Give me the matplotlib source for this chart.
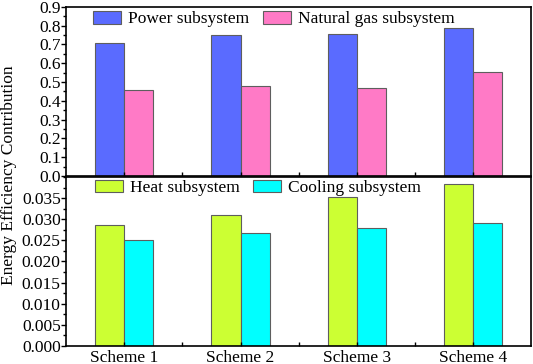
import matplotlib
matplotlib.use("Agg")
import matplotlib.pyplot as plt
from matplotlib.ticker import MultipleLocator, FixedLocator
import numpy as np

schemes = ["Scheme 1", "Scheme 2", "Scheme 3", "Scheme 4"]
power = [0.709, 0.752, 0.756, 0.786]
natural_gas = [0.455, 0.480, 0.470, 0.551]
heat = [0.0287, 0.0310, 0.0352, 0.0385]
cooling = [0.0252, 0.0267, 0.0280, 0.0291]

plt.rcParams['font.family'] = ['Liberation Serif', 'DejaVu Serif']
plt.rcParams['font.size'] = 12.5

fig = plt.figure(figsize=(5.33, 3.64), dpi=100)
ax1 = fig.add_axes([0.1244, 0.5165, 0.8716, 0.4651])
ax2 = fig.add_axes([0.1244, 0.0503, 0.8716, 0.4629])

x = np.arange(1, len(schemes) + 1)
w = 0.25
edge = '#5e5e5e'

ax1.bar(x - w/2, power, w, color='#5A6BFF', edgecolor=edge, linewidth=0.8, label='Power subsystem')
ax1.bar(x + w/2, natural_gas, w, color='#FF7AC6', edgecolor=edge, linewidth=0.8, label='Natural gas subsystem')
ax2.bar(x - w/2, heat, w, color='#CCFF33', edgecolor=edge, linewidth=0.8, label='Heat subsystem')
ax2.bar(x + w/2, cooling, w, color='#00FFFF', edgecolor=edge, linewidth=0.8, label='Cooling subsystem')

ax1.set_ylim(0, 0.9)
ax1.yaxis.set_major_locator(MultipleLocator(0.1))
ax1.yaxis.set_minor_locator(MultipleLocator(0.05))
ax1.yaxis.set_major_formatter(matplotlib.ticker.FormatStrFormatter('%.1f'))
ax2.set_ylim(0, 0.04)
ax2.set_yticks(np.arange(0, 0.0351, 0.005))
ax2.yaxis.set_minor_locator(MultipleLocator(0.0025))
ax2.yaxis.set_major_formatter(matplotlib.ticker.FormatStrFormatter('%.3f'))

for ax in (ax1, ax2):
    ax.set_xlim(0.5, 4.5)
    ax.set_xticks(x)
    ax.xaxis.set_minor_locator(FixedLocator([1.5, 2.5, 3.5]))
    ax.tick_params(axis='x', which='both', direction='in', length=3, width=1)
    ax.tick_params(axis='y', which='major', direction='out', length=3.5, width=1, labelsize=12.5, pad=0.5)
    ax.tick_params(axis='y', which='minor', direction='out', length=2, width=1)
    for s in ax.spines.values():
        s.set_linewidth(1.2)

ax1.set_xticklabels([])
ax2.set_xticklabels(schemes, fontsize=12.5)
ax2.tick_params(axis='x', which='major', pad=3)

leg_kw = dict(ncol=2, frameon=False, loc='upper left', borderpad=0, borderaxespad=0,
              handlelength=1.6, handleheight=0.75, handletextpad=0.4, columnspacing=0.8,
              fontsize=12.5)
ax1.legend(bbox_to_anchor=(0.058, 0.975), **leg_kw)
ax2.legend(bbox_to_anchor=(0.062, 0.985), **leg_kw)

fig.text(0.017, 0.519, 'Energy Efficiency Contribution', rotation=90,
         ha='center', va='center', fontsize=12.5)

fig.savefig('out.png', dpi=100)
